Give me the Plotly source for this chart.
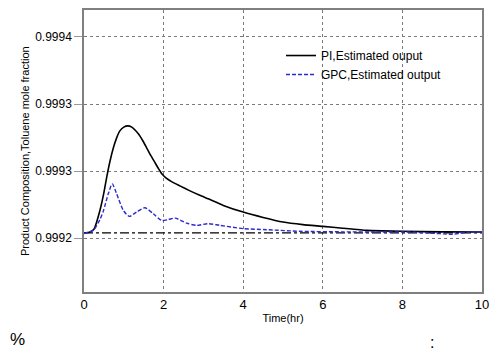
import plotly.graph_objects as go

# Time axis (hr)
t_pi = [0.0, 0.15, 0.25, 0.40, 0.50, 0.57, 0.65, 0.74, 0.82, 0.90, 1.00, 1.10, 1.20, 1.37,
        1.47, 1.57, 1.68, 1.78, 1.88, 1.96, 2.05, 2.20, 2.41, 2.65, 2.91, 3.12, 3.50, 4.00, 4.50,
        5.00, 5.50, 6.00, 6.50, 7.10, 7.50, 8.00, 9.00, 10.0]
pi_out = [0.9992039, 0.9992047, 0.9992067, 0.9992207, 0.9992340, 0.9992454, 0.9992570, 0.9992676,
          0.9992748, 0.9992800, 0.9992828, 0.9992837, 0.9992828, 0.9992776, 0.9992730, 0.9992676,
          0.9992615, 0.9992565, 0.9992515, 0.9992478, 0.9992452, 0.9992422, 0.9992390, 0.9992355,
          0.9992320, 0.9992294, 0.9992245, 0.9992195, 0.9992155, 0.9992121, 0.9992102, 0.9992089,
          0.9992075, 0.9992059, 0.9992055, 0.9992052, 0.9992048, 0.9992047]

t_gpc = [0.0, 0.23, 0.40, 0.49, 0.61, 0.71, 0.82, 0.99, 1.14, 1.32, 1.53, 1.74, 1.95, 2.12,
         2.29, 2.58, 2.83, 3.12, 3.42, 4.00, 4.59, 5.43, 6.50, 7.50, 8.00, 8.60, 9.27, 9.60, 10.0]
gpc_out = [0.9992035, 0.9992059, 0.9992140, 0.9992207, 0.9992331, 0.9992405, 0.9992331, 0.9992207,
           0.9992163, 0.9992195, 0.9992227, 0.9992183, 0.9992133, 0.9992140, 0.9992150, 0.9992113,
           0.9992096, 0.9992109, 0.9992096, 0.9992072, 0.9992064, 0.9992052, 0.9992048, 0.9992047,
           0.9992047, 0.9992041, 0.9992030, 0.9992044, 0.9992047]

t_sp = [0.0, 10.0]
setpoint = [0.999204, 0.999204]

y_tickvals = [0.9992, 0.99925, 0.9993, 0.99935]
y_ticktext = ["0.9992", "0.9993", "0.9993", "0.9994"]
x_tickvals = [0, 2, 4, 6, 8, 10]

fig = go.Figure()
fig.add_trace(go.Scatter(x=t_sp, y=setpoint, mode="lines", showlegend=False,
                         line=dict(color="black", width=1.3, dash="dashdot")))
fig.add_trace(go.Scatter(x=t_pi, y=pi_out, mode="lines", name="PI,Estimated ouput",
                         line=dict(color="black", width=1.6, shape="spline", smoothing=0.5)))
fig.add_trace(go.Scatter(x=t_gpc, y=gpc_out, mode="lines", name="GPC,Estimated output",
                         line=dict(color="#2b2bd0", width=1.4, dash="4px,2px", shape="spline", smoothing=0.7)))

font = "Liberation Sans, Arial, sans-serif"
fig.update_layout(
    width=499, height=360,
    margin=dict(l=84, r=17, t=8, b=68),
    paper_bgcolor="white", plot_bgcolor="white",
    font=dict(family=font, size=12, color="black"),
    showlegend=True,
    legend=dict(x=0.495, y=0.89, xanchor="left", yanchor="top",
                bgcolor="rgba(0,0,0,0)", font=dict(size=12, family=font),
                tracegroupgap=0, itemwidth=30),
    xaxis=dict(range=[0, 10], tickvals=x_tickvals, showgrid=True, gridcolor="#7a7a7a",
               griddash="dot", gridwidth=1, showline=True, linecolor="#808080", linewidth=1.5,
               mirror=True, ticks="", zeroline=False, tickfont=dict(size=13),
               title=dict(text="Time(hr)", font=dict(size=11), standoff=3)),
    yaxis=dict(range=[0.99916, 0.99937], tickvals=y_tickvals, ticktext=y_ticktext,
               showgrid=True, gridcolor="#7a7a7a", griddash="dot", gridwidth=1,
               showline=True, linecolor="#808080", linewidth=1.5, mirror=True,
               ticks="outside", ticklen=8, tickcolor="#9a9a9a", zeroline=False,
               tickfont=dict(size=12)),
    annotations=[
        dict(text="Product Composition,Toluene mole fraction", textangle=-90,
             xref="paper", yref="paper", x=-0.148, y=0.5, showarrow=False,
             font=dict(size=11, family=font), xanchor="center", yanchor="middle"),
        dict(text="%", xref="paper", yref="paper", x=-0.166, y=-0.169, showarrow=False,
             font=dict(size=17, family=font), xanchor="center", yanchor="middle"),
        dict(text=":", xref="paper", yref="paper", x=0.874, y=-0.18, showarrow=False,
             font=dict(size=16, family=font), xanchor="center", yanchor="middle"),
    ],
)

fig.write_html("out.html")
